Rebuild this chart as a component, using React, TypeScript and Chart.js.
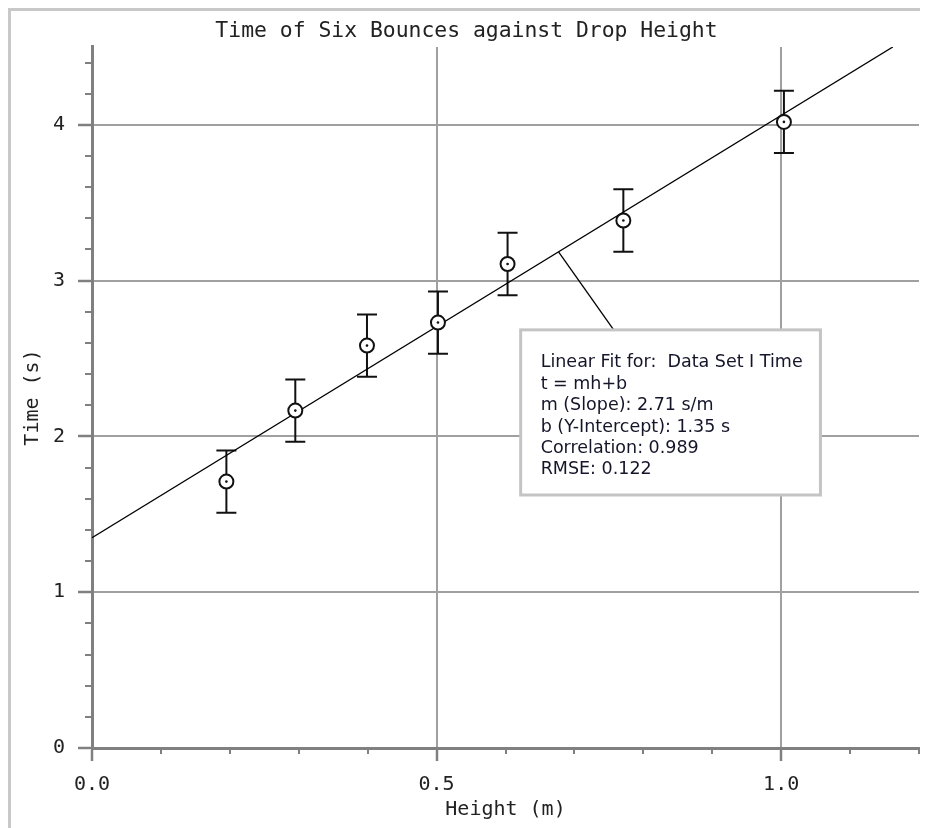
import React, { useEffect, useRef } from 'react';
import { Chart, registerables } from 'chart.js';

Chart.register(...registerables);

// ---- data ----
const heights = [0.195, 0.295, 0.399, 0.502, 0.603, 0.771, 1.004];
const times = [1.71, 2.166, 2.583, 2.731, 3.107, 3.386, 4.019];
const timeErrors = [0.2, 0.2, 0.2, 0.2, 0.2, 0.2, 0.2];
const fitHeights = [0, 1.162];
const fitTimes = [1.35, 4.5];
const xTickValues = [0, 0.5, 1.0];
const yTickValues = [0, 1, 2, 3, 4];
const xMinorStep = 0.1;
const yMinorStep = 0.2;
const chartTitle = 'Time of Six Bounces against Drop Height';
const xTitle = 'Height (m)';
const yTitle = 'Time (s)';
const fitLabelLines = [
  'Linear Fit for:  Data Set I Time',
  't = mh+b',
  'm (Slope): 2.71 s/m',
  'b (Y-Intercept): 1.35 s',
  'Correlation: 0.989',
  'RMSE: 0.122',
];
// annotation placement (data units)
const fitBoxX = [0.622, 1.057];
const fitBoxY = [1.624, 2.684];
const leaderFrom = [0.677, 3.185];
const leaderTo = [0.757, 2.684];

const MONO = '"DejaVu Sans Mono", monospace';
const SANS = '"DejaVu Sans", sans-serif';
const AXIS_COLOR = '#808080';
const GRID_COLOR = '#a0a0a0';
const INK = '#111111';

const extrasPlugin = {
  id: 'extras',
  beforeDatasetsDraw(chart: any) {
    const { ctx, scales } = chart;
    const xs = scales.x;
    const ys = scales.y;
    ctx.save();
    ctx.strokeStyle = INK;
    ctx.lineWidth = 2;
    heights.forEach((h, i) => {
      const px = xs.getPixelForValue(h);
      const top = ys.getPixelForValue(times[i] + timeErrors[i]);
      const bot = ys.getPixelForValue(times[i] - timeErrors[i]);
      ctx.beginPath();
      ctx.moveTo(px, top);
      ctx.lineTo(px, bot);
      ctx.moveTo(px - 10, top);
      ctx.lineTo(px + 10, top);
      ctx.moveTo(px - 10, bot);
      ctx.lineTo(px + 10, bot);
      ctx.stroke();
    });
    ctx.restore();
  },
  afterDatasetsDraw(chart: any) {
    const { ctx, scales } = chart;
    ctx.save();
    ctx.fillStyle = INK;
    heights.forEach((h, i) => {
      ctx.beginPath();
      ctx.arc(scales.x.getPixelForValue(h), scales.y.getPixelForValue(times[i]), 1.3, 0, Math.PI * 2);
      ctx.fill();
    });
    ctx.restore();
  },
  afterDraw(chart: any) {
    const { ctx, scales, chartArea } = chart;
    const xs = scales.x;
    const ys = scales.y;
    ctx.save();
    // minor ticks
    ctx.strokeStyle = AXIS_COLOR;
    ctx.lineWidth = 2;
    ctx.beginPath();
    for (let k = 1; k * yMinorStep <= ys.max + 1e-9; k++) {
      const v = k * yMinorStep;
      if (Math.abs(v - Math.round(v)) < 1e-6) continue;
      const py = Math.round(ys.getPixelForValue(v));
      ctx.moveTo(chartArea.left - 7, py);
      ctx.lineTo(chartArea.left, py);
    }
    for (let k = 1; k * xMinorStep <= xs.max + 1e-9; k++) {
      const v = k * xMinorStep;
      if (Math.abs(v * 2 - Math.round(v * 2)) < 1e-6) continue;
      const px = Math.round(xs.getPixelForValue(v));
      ctx.moveTo(px, chartArea.bottom);
      ctx.lineTo(px, chartArea.bottom + 6);
    }
    ctx.stroke();

    // leader line
    ctx.strokeStyle = '#000';
    ctx.lineWidth = 1.3;
    ctx.beginPath();
    ctx.moveTo(xs.getPixelForValue(leaderFrom[0]), ys.getPixelForValue(leaderFrom[1]));
    ctx.lineTo(xs.getPixelForValue(leaderTo[0]), ys.getPixelForValue(leaderTo[1]));
    ctx.stroke();

    // box
    const bx0 = xs.getPixelForValue(fitBoxX[0]);
    const bx1 = xs.getPixelForValue(fitBoxX[1]);
    const by0 = ys.getPixelForValue(fitBoxY[1]);
    const by1 = ys.getPixelForValue(fitBoxY[0]);
    ctx.fillStyle = '#ffffff';
    ctx.fillRect(bx0, by0, bx1 - bx0, by1 - by0);
    ctx.strokeStyle = '#c4c4c4';
    ctx.lineWidth = 3;
    ctx.strokeRect(bx0, by0, bx1 - bx0, by1 - by0);

    ctx.fillStyle = '#15152a';
    ctx.font = `17.5px ${SANS}`;
    ctx.textBaseline = 'alphabetic';
    ctx.textAlign = 'left';
    fitLabelLines.forEach((line, i) => {
      ctx.fillText(line, bx0 + 20, by0 + 37.5 + i * 21.4);
    });
    ctx.restore();
  },
};

export default function App() {
  const canvasRef = useRef<HTMLCanvasElement | null>(null);

  useEffect(() => {
    document.documentElement.style.overflow = 'hidden';
    document.body.style.overflow = 'hidden';
    const canvas = canvasRef.current;
    if (!canvas) return;
    const tickFont = { family: MONO, size: 20, weight: 'normal' as const };
    const chart = new Chart(canvas, {
      type: 'scatter',
      data: {
        datasets: [
          {
            type: 'line',
            label: 'fit',
            data: fitHeights.map((h, i) => ({ x: h, y: fitTimes[i] })),
            borderColor: '#000000',
            borderWidth: 1.3,
            pointRadius: 0,
            fill: false,
            order: 2,
          } as any,
          {
            label: 'Data Set I Time',
            data: heights.map((h, i) => ({ x: h, y: times[i] })),
            pointRadius: 7,
            pointBorderWidth: 2,
            pointBorderColor: INK,
            pointBackgroundColor: '#ffffff',
            order: 1,
          },
        ],
      },
      options: {
        animation: false,
        responsive: false,
        devicePixelRatio: 1,
        layout: { padding: { left: 0, right: 6, top: 0, bottom: 0 } },
        plugins: {
          legend: { display: false },
          tooltip: { enabled: false },
          title: {
            display: true,
            text: chartTitle,
            color: '#222222',
            font: { family: MONO, size: 21.4, weight: 'normal' },
            padding: { top: 8, bottom: 2.3 },
          },
        },
        scales: {
          x: {
            type: 'linear',
            min: 0,
            max: 1.2,
            afterBuildTicks: (s: any) => {
              s.ticks = xTickValues.map((v) => ({ value: v }));
            },
            afterFit: (s: any) => {
              s.height = 80;
            },
            grid: {
              color: GRID_COLOR,
              lineWidth: 2,
              tickLength: 13,
              tickColor: AXIS_COLOR,
              tickWidth: 2.5,
            },
            border: { color: AXIS_COLOR, width: 3 },
            ticks: {
              font: tickFont,
              color: '#222222',
              padding: 12,
              maxRotation: 0,
              autoSkip: false,
              callback: (v: any) => Number(v).toFixed(1),
            },
            title: {
              display: true,
              text: xTitle,
              color: '#222222',
              font: tickFont,
              padding: { top: 0, bottom: 6 },
            },
          },
          y: {
            type: 'linear',
            min: 0,
            max: 4.5,
            afterBuildTicks: (s: any) => {
              s.ticks = yTickValues.map((v) => ({ value: v }));
            },
            afterFit: (s: any) => {
              s.width = 81;
            },
            grid: {
              color: GRID_COLOR,
              lineWidth: 2,
              tickLength: 14,
              tickColor: AXIS_COLOR,
              tickWidth: 2.5,
            },
            border: { color: AXIS_COLOR, width: 3 },
            ticks: {
              font: tickFont,
              color: '#222222',
              padding: 13,
              autoSkip: false,
              callback: (v: any) => String(Math.round(Number(v))),
            },
            title: {
              display: true,
              text: yTitle,
              color: '#222222',
              font: tickFont,
              padding: { top: 10, bottom: 0 },
            },
          },
        },
      },
      plugins: [extrasPlugin],
    });
    return () => {
      chart.destroy();
    };
  }, []);

  return (
    <div
      style={{
        borderLeft: '3px solid #c8c8c8',
        borderTop: '3px solid #c8c8c8',
        width: 960,
        height: 860,
        background: '#ffffff',
      }}
    >
      <canvas ref={canvasRef} width={917} height={817} style={{ display: 'block' }} />
    </div>
  );
}
